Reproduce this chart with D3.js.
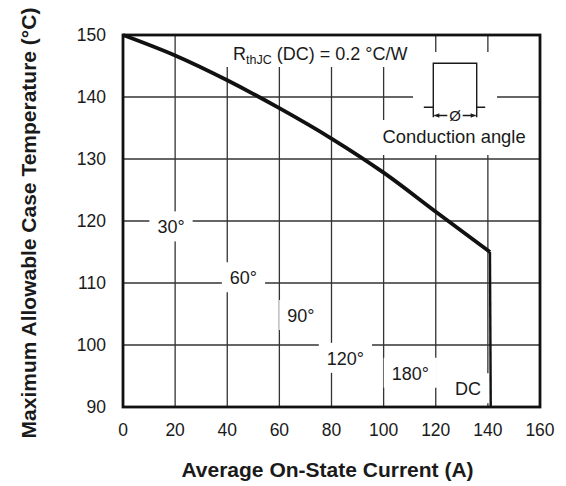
<!DOCTYPE html>
<html>
<head>
<meta charset="utf-8">
<script src="https://cdn.jsdelivr.net/npm/d3@7"></script>
<style>
  body { margin: 0; background: #fff; }
  text { font-family: "Liberation Sans", Arial, Helvetica, sans-serif; fill: #1a1a1a; }
</style>
</head>
<body>
<div id="chart"></div>
<script>
var xTicks = [0, 20, 40, 60, 80, 100, 120, 140, 160];
var yTicks = [90, 100, 110, 120, 130, 140, 150];

// DC curve
var dcCurrent = [0, 20, 40, 60, 80, 100, 120, 140.8];
var dcTemp = [150, 146.7, 142.7, 138.2, 133.3, 127.8, 121.5, 115];
var dcDropCurrent = [140.8, 141.1];
var dcDropTemp = [115, 90];

// conduction angle labels and where they sit (data units: start of text, baseline)
var angleLabels = ["30°", "60°", "90°", "120°", "180°", "DC"];
var angleLabelX = [13.2, 41.0, 63.0, 78.2, 103.1, 127.4];
var angleLabelY = [118.0, 109.8, 103.7, 96.8, 94.4, 91.9];

var width = 566, height = 486;
var pLeft = 123, pRight = 540, pTop = 35, pBottom = 407;

var svg = d3.select("#chart").append("svg")
  .attr("width", width)
  .attr("height", height);

var x = d3.scaleLinear().domain([0, 160]).range([pLeft, pRight]);
var y = d3.scaleLinear().domain([90, 150]).range([pBottom, pTop]);

/* grid */
svg.append("g").selectAll("line")
  .data(xTicks.slice(1, -1)).enter().append("line")
  .attr("x1", function(d) { return x(d); })
  .attr("x2", function(d) { return x(d); })
  .attr("y1", pTop).attr("y2", pBottom)
  .attr("stroke", "#333").attr("stroke-width", 1.3);

svg.append("g").selectAll("line")
  .data(yTicks.slice(1, -1)).enter().append("line")
  .attr("y1", function(d) { return y(d); })
  .attr("y2", function(d) { return y(d); })
  .attr("x1", pLeft).attr("x2", pRight)
  .attr("stroke", "#333").attr("stroke-width", 1.3);

/* tick labels */
svg.append("g").selectAll("text")
  .data(xTicks).enter().append("text")
  .attr("x", function(d) { return x(d); })
  .attr("y", 436)
  .attr("text-anchor", "middle")
  .style("font-size", "17.5px")
  .text(function(d) { return d; });

svg.append("g").selectAll("text")
  .data(yTicks).enter().append("text")
  .attr("x", pLeft - 17)
  .attr("y", function(d) { return y(d) + 6; })
  .attr("text-anchor", "end")
  .style("font-size", "17.5px")
  .text(function(d) { return d; });

/* white patches behind the annotation in the upper right */
svg.append("rect").attr("x", 225).attr("y", pTop + 1).attr("width", 190).attr("height", 31).attr("fill", "#fff");
svg.append("rect").attr("x", 413).attr("y", 52).attr("width", 84).attr("height", 70).attr("fill", "#fff");
svg.append("rect").attr("x", 378).attr("y", 120).attr("width", 152).attr("height", 35).attr("fill", "#fff");

/* angle labels with white background */
var lab = svg.append("g").selectAll("g")
  .data(angleLabels).enter().append("g");
lab.append("rect").attr("fill", "#fff");
lab.append("text")
  .attr("x", function(d, i) { return x(angleLabelX[i]); })
  .attr("y", function(d, i) { return y(angleLabelY[i]); })
  .style("font-size", "18px")
  .text(function(d) { return d; });
lab.each(function(d, i) {
  var t = d3.select(this).select("text");
  var b = t.node().getBBox();
  var base = y(angleLabelY[i]);
  d3.select(this).select("rect")
    .attr("x", b.x - 8).attr("y", base - 22)
    .attr("width", b.width + 16).attr("height", 30);
});

/* R_thJC note */
var note = svg.append("text")
  .attr("x", 233).attr("y", 60)
  .style("font-size", "18px");
note.append("tspan").text("R");
note.append("tspan").attr("dy", 4).style("font-size", "12.5px").text("thJC");
note.append("tspan").attr("dy", -4).text(" (DC) = 0.2 °C/W");

/* pulse icon */
var pl = 433.3, pr = 476.7, pt = 63.3, pb = 107.3;
var icon = svg.append("g").attr("stroke", "#1a1a1a").attr("stroke-width", 1.4).attr("fill", "none");
icon.append("path").attr("d",
  "M" + (pl - 9.5) + "," + pb + "H" + pl + "M" + pl + "," + (pb + 10) + "V" + pt + "H" + pr + "V" + (pb + 10) +
  "M" + pr + "," + pb + "H" + (pr + 8.5));
icon.append("path").attr("d", "M" + (pl + 1) + ",115.5H" + (pl + 14) + "M" + (pr - 14) + ",115.5H" + (pr - 1));
icon.append("path").attr("fill", "#1a1a1a").attr("stroke", "none")
  .attr("d", "M" + (pl + 1) + ",115.5l5,-2.3v4.6z M" + (pr - 1) + ",115.5l-5,-2.3v4.6z");
svg.append("text")
  .attr("x", (pl + pr) / 2).attr("y", 120.5)
  .attr("text-anchor", "middle")
  .style("font-size", "15px")
  .text("Ø");
svg.append("text")
  .attr("x", 382.5).attr("y", 143.3)
  .style("font-size", "18.4px")
  .text("Conduction angle");

/* DC curve */
var pts = dcCurrent.map(function(d, i) { return [d, dcTemp[i]]; });
var line = d3.line()
  .x(function(d) { return x(d[0]); })
  .y(function(d) { return y(d[1]); })
  .curve(d3.curveCatmullRom);
svg.append("path")
  .attr("d", line(pts))
  .attr("fill", "none")
  .attr("stroke", "#111")
  .attr("stroke-width", 3.8)
  .attr("stroke-linejoin", "round");

var drop = dcDropCurrent.map(function(d, i) { return [d, dcDropTemp[i]]; });
svg.append("path")
  .attr("d", d3.line().x(function(d) { return x(d[0]); }).y(function(d) { return y(d[1]); })(drop))
  .attr("fill", "none")
  .attr("stroke", "#111")
  .attr("stroke-width", 2.4);

/* frame */
svg.append("rect")
  .attr("x", pLeft).attr("y", pTop)
  .attr("width", pRight - pLeft).attr("height", pBottom - pTop)
  .attr("fill", "none")
  .attr("stroke", "#111")
  .attr("stroke-width", 2.8);

/* axis titles */
svg.append("text")
  .attr("x", (pLeft + pRight) / 2 - 4).attr("y", 477)
  .attr("text-anchor", "middle")
  .style("font-size", "21px").style("font-weight", "bold")
  .text("Average On-State Current (A)");

svg.append("text")
  .attr("transform", "translate(36," + 223 + ") rotate(-90)")
  .attr("text-anchor", "middle")
  .style("font-size", "21px").style("font-weight", "bold")
  .text("Maximum Allowable Case Temperature (°C)");
</script>
</body>
</html>
